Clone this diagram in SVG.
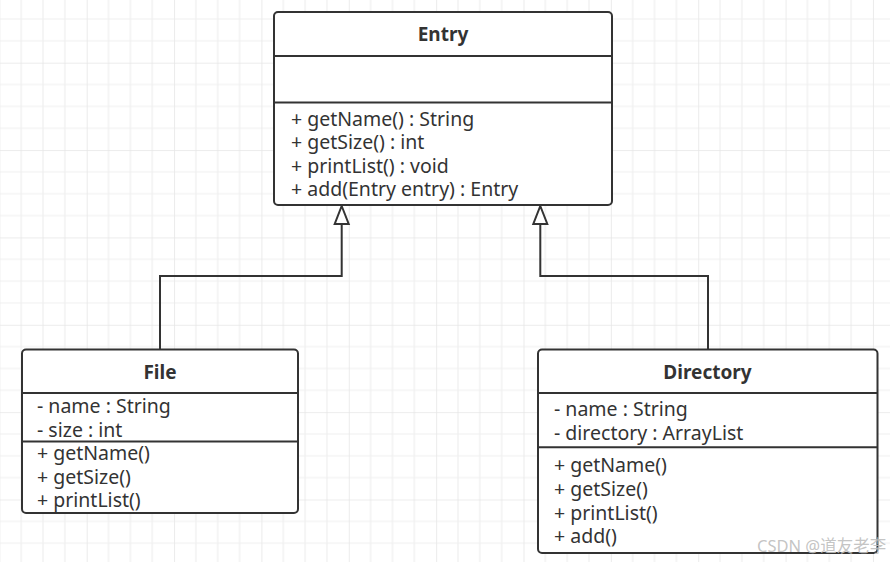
<svg xmlns="http://www.w3.org/2000/svg" width="890" height="562" viewBox="0 0 890 562">
<style>
.box{fill:#fff;stroke:#333;stroke-width:2}
.div{stroke:#333;stroke-width:2}
.title{font-family:"Noto Sans","Open Sans",sans-serif;font-weight:bold;font-size:19px;fill:#333;text-anchor:middle}
.t{font-family:"Noto Sans","Open Sans",sans-serif;font-size:19.5px;fill:#333}
.conn{fill:none;stroke:#333;stroke-width:2}
.head{fill:#fff;stroke:#333;stroke-width:2}
.wm{font-family:"Noto Sans","Noto Sans CJK SC",sans-serif;font-size:16.5px;fill:#bdbdbd;fill-opacity:0.9}
</style>
<defs>
<pattern id="grid" patternUnits="userSpaceOnUse" x="-0.66" y="-24.66" width="87.36" height="87.36">
<path d="M21.84 0V87.36M43.68 0V87.36M65.52 0V87.36M0 21.84H87.36M0 43.68H87.36M0 65.52H87.36" stroke="#efefef" stroke-width="1.2"/>
<path d="M0 0V87.36M0 0H87.36" stroke="#e6e6e6" stroke-width="1.6"/>
</pattern>
</defs>
<rect width="890" height="562" fill="#fff"/>
<rect width="890" height="562" fill="url(#grid)"/>
<g id="connectors">
<path class="conn" d="M160 349V276H341.7V222"/>
<path class="conn" d="M708 349V276H540.3V222"/>
<path class="head" d="M341.7 206L348.7 224H334.7Z"/>
<path class="head" d="M540.3 206L547.3 224H533.3Z"/>
</g>
<g id="entry">
<rect class="box" x="274" y="12" width="338" height="193" rx="4"/>
<line class="div" x1="274" y1="56" x2="612" y2="56"/>
<line class="div" x1="274" y1="102.5" x2="612" y2="102.5"/>
<text class="title" x="443" y="41">Entry</text>
<text class="t" x="291" y="126">+ getName() : String</text>
<text class="t" x="291" y="149.4">+ getSize() : int</text>
<text class="t" x="291" y="172.8">+ printList() : void</text>
<text class="t" x="291" y="196.2">+ add(Entry entry) : Entry</text>
</g>
<g id="file">
<rect class="box" x="22" y="349.5" width="276" height="163.5" rx="4"/>
<line class="div" x1="22" y1="393" x2="298" y2="393"/>
<line class="div" x1="22" y1="441.5" x2="298" y2="441.5"/>
<text class="title" x="160" y="378.5">File</text>
<text class="t" x="37" y="412.8">- name : String</text>
<text class="t" x="37" y="436.5">- size : int</text>
<text class="t" x="37" y="460.2">+ getName()</text>
<text class="t" x="37" y="483.8">+ getSize()</text>
<text class="t" x="37" y="507.4">+ printList()</text>
</g>
<g id="directory">
<rect class="box" x="538" y="349.5" width="339.5" height="203.5" rx="4"/>
<line class="div" x1="538" y1="393" x2="877.5" y2="393"/>
<line class="div" x1="538" y1="447.3" x2="877.5" y2="447.3"/>
<text class="title" x="707.5" y="379">Directory</text>
<text class="t" x="554" y="416">- name : String</text>
<text class="t" x="554" y="439.5">- directory : ArrayList</text>
<text class="t" x="554" y="471.8">+ getName()</text>
<text class="t" x="554" y="495.8">+ getSize()</text>
<text class="t" x="554" y="519.6">+ printList()</text>
<text class="t" x="554" y="543.4">+ add()</text>
</g>
<text class="wm" x="757" y="552">CSDN @道友老李</text>
</svg>
